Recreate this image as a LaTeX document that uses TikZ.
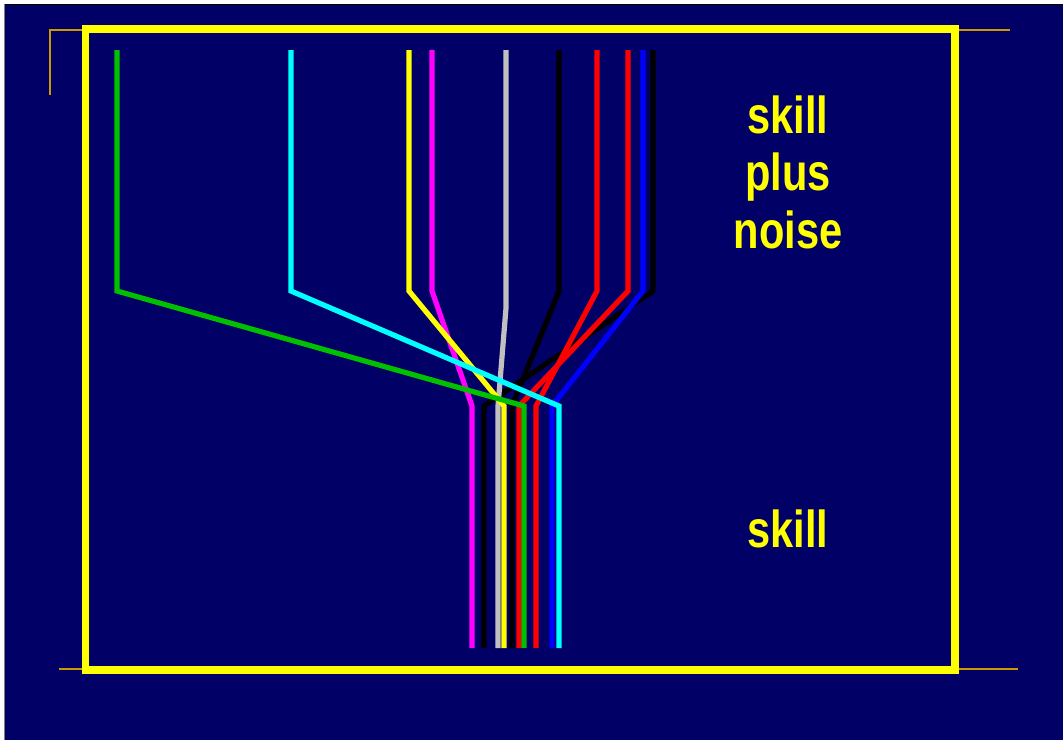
\documentclass[tikz,border=0pt]{standalone}
\usepackage{fontspec}
\setmainfont{Liberation Sans}
\definecolor{navy}{RGB}{0,0,102}
\definecolor{gold}{RGB}{204,153,0}
\definecolor{lgreen}{RGB}{0,192,0}
\definecolor{lgrey}{RGB}{192,192,192}
\definecolor{lcyan}{RGB}{0,255,255}
\definecolor{lmagenta}{RGB}{255,0,255}
\definecolor{lyellow}{RGB}{255,255,0}
\definecolor{lred}{RGB}{255,0,0}
\definecolor{lblue}{RGB}{0,0,255}
\definecolor{lblack}{RGB}{0,0,0}
\begin{document}
\begin{tikzpicture}[x=1pt,y=-1pt,
  trace/.style={line width=5.2pt,line cap=butt,line join=miter},
  frameline/.style={draw=lyellow,line width=7.5pt},
  tick/.style={draw=gold,line width=2pt},
  label/.style={text=lyellow,font=\bfseries\fontsize{52}{57.5}\selectfont,align=center,inner sep=0pt}]
\useasboundingbox (0,0) rectangle (1063,740);
\fill[white] (0,0) rectangle (1063,740);
\fill[navy] (5,5) rectangle (1063,740);
\draw[lblack,line width=1.2pt] (4,4.5) -- (1063,4.5);
\draw[gray,line width=1.2pt] (4.5,4) -- (4.5,740);
% gold ticks
\draw[tick] (50,95) -- (50,30) -- (82,30);
\draw[tick] (958,30) -- (1010,30);
\draw[tick] (59,669) -- (82,669);
\draw[tick] (958,669) -- (1018,669);
% traces: top x / bend y / bottom x / colour
\foreach \tx/\by/\bx/\col in {653/291/484/lblack, 559/291/512/lblack,
   628/291/519/lred, 597/291/536/lred, 506/308/498/lgrey,
   432/291/472/lmagenta, 409/291/504/lyellow, 117/291/524/lgreen,
   643/291/552/lblue, 291/291/559/lcyan}
  \draw[trace,draw=\col] (\tx,50) -- (\tx,\by) -- (\bx,406) -- (\bx,648);
% frame
\draw[frameline] (85.5,29) rectangle (955,670);
% labels
\node[label,anchor=base] (t1) at (788,133) {\scalebox{0.8}[1]{skill}};
\node[label,anchor=base] (t2) at (788,190.5) {\scalebox{0.8}[1]{plus}};
\node[label,anchor=base] (t3) at (788,248) {\scalebox{0.8}[1]{noise}};
\node[label,anchor=base] (t4) at (788,547) {\scalebox{0.8}[1]{skill}};
\end{tikzpicture}
\end{document}
